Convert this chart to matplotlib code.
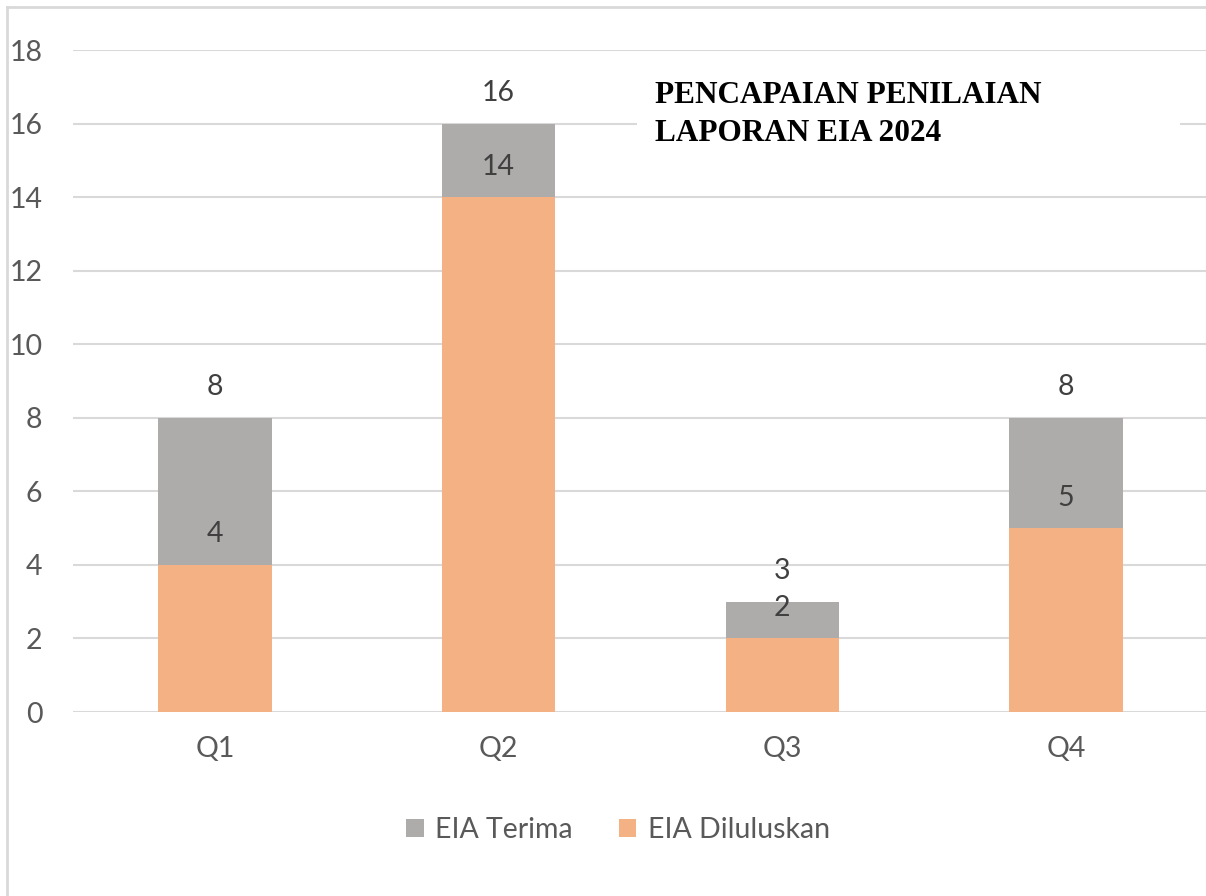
import matplotlib.pyplot as plt
from matplotlib.patches import Rectangle
from matplotlib.lines import Line2D

# data
quarters = ["Q1", "Q2", "Q3", "Q4"]
eia_terima = [8, 16, 3, 8]
eia_diluluskan = [4, 14, 2, 5]

W, H = 1206, 896
plt.rcParams['font.family'] = ['Lato', 'DejaVu Sans']

fig = plt.figure(figsize=(W / 100, H / 100), dpi=100)
fig.patch.set_facecolor('white')

# plot area in pixels: left 73, right 1208, top 50, bottom 712
ax = fig.add_axes([73 / W, (H - 712) / H, (1208 - 73) / W, (712 - 50) / H])

x = list(range(len(quarters)))
ax.bar(x, eia_terima, width=0.4, color='#AEABAB', label='EIA Terima', zorder=2)
ax.bar(x, eia_diluluskan, width=0.4, color='#F4B183', label='EIA Diluluskan', zorder=3)

for xi, t, d in zip(x, eia_terima, eia_diluluskan):
    ax.annotate(str(t), (xi, t), xytext=(0, 22), textcoords='offset points',
                ha='center', va='center', fontsize=20.5, color='#404040', zorder=5)
    ax.annotate(str(d), (xi, d), xytext=(0, 22), textcoords='offset points',
                ha='center', va='center', fontsize=20.5, color='#404040', zorder=5)

ax.set_xlim(-0.5, 3.5)
ax.set_ylim(0, 18)
ax.set_yticks(range(0, 19, 2))
ax.set_xticks(x)
ax.set_xticklabels(quarters)
ax.tick_params(axis='both', length=0, labelsize=20.5, colors='#595959')
ax.tick_params(axis='y', pad=22)
ax.tick_params(axis='x', pad=17)
ax.yaxis.grid(True, color='#D9D9D9', linewidth=1.5, zorder=0)
ax.set_axisbelow(True)
for s in ax.spines.values():
    s.set_visible(False)

# white box behind the title that hides the gridline at 16
ax.add_patch(Rectangle((637 / W, (H - 172) / H), (1180 - 637) / W, (172 - 66) / H,
                       transform=fig.transFigure, facecolor='white', edgecolor='none',
                       zorder=4, clip_on=False))
fig.text(655 / W, (H - 81) / H, "PENCAPAIAN PENILAIAN\nLAPORAN EIA 2024",
         ha='left', va='top', fontsize=22.5, fontweight='bold',
         family=['Liberation Serif', 'DejaVu Serif'], color='black',
         linespacing=1.42, zorder=6)

# outer chart border (cropped on right and bottom)
fig.add_artist(Line2D([7 / W, 7 / W], [0, (H - 7) / H], color='#D9D9D9', linewidth=2))
fig.add_artist(Line2D([7 / W, 1], [(H - 7) / H, (H - 7) / H], color='#D9D9D9', linewidth=2))

fig.legend(loc='center', bbox_to_anchor=(618 / W, (H - 830) / H), ncol=2, frameon=False,
           fontsize=20.5, labelcolor='#595959', handlelength=0.62, handleheight=0.62,
           handletextpad=0.4, columnspacing=1.6)

fig.savefig("out.png", dpi=100)
